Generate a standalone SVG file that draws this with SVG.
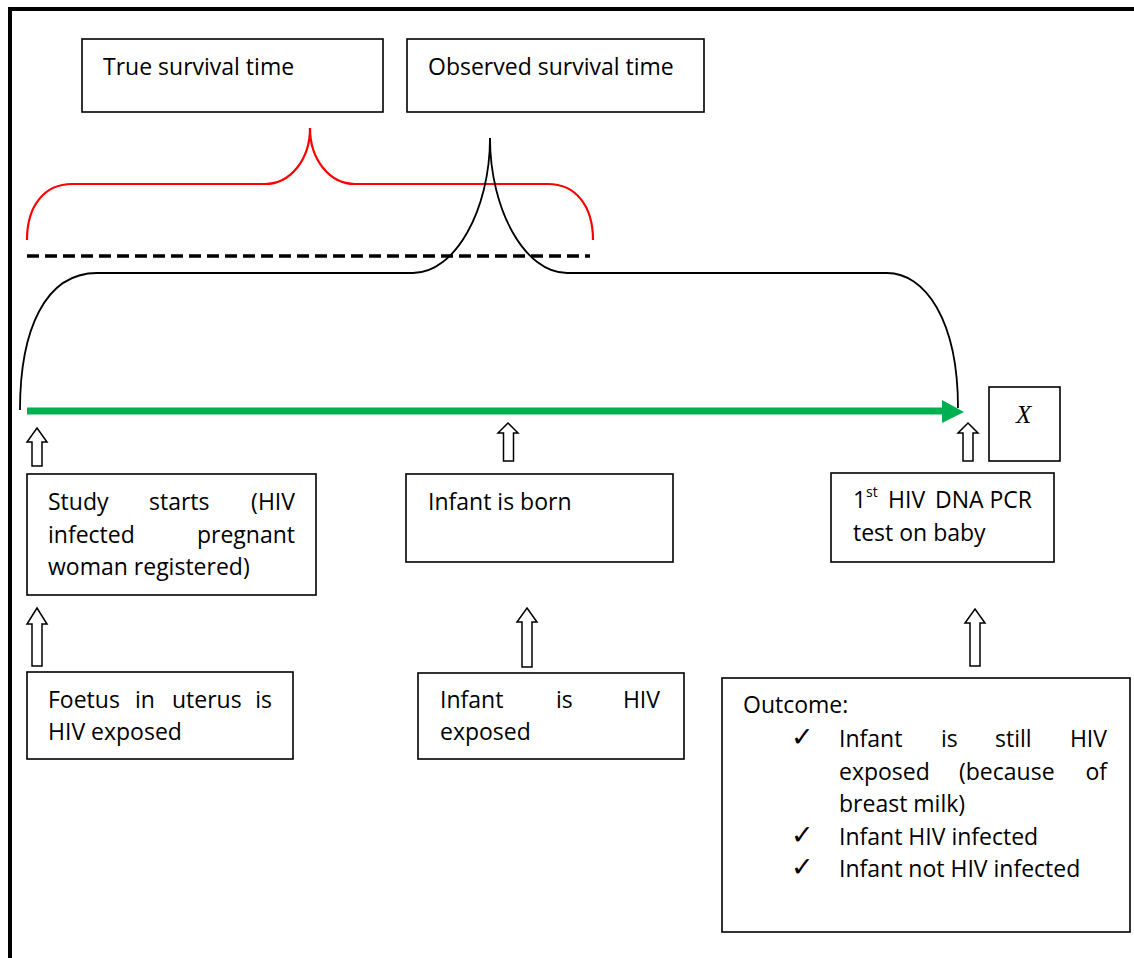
<svg xmlns="http://www.w3.org/2000/svg" width="1134" height="958" viewBox="0 0 1134 958">
<style>
.box{fill:#fff;stroke:#000;stroke-width:1.6}
.t{font-family:"Open Sans","Liberation Sans",sans-serif;font-size:23px;fill:#000}
.sup{font-family:"Open Sans","Liberation Sans",sans-serif;font-size:14px;fill:#000}
.chk{font-family:"DejaVu Sans",sans-serif;font-size:27px;fill:#000}
.blk{fill:#fff;stroke:#000;stroke-width:1.5;stroke-linejoin:miter}
.brace{fill:none;stroke:#000;stroke-width:1.8}
.rbrace{fill:none;stroke:#ff0000;stroke-width:2.2}
</style>
<rect width="1134" height="958" fill="#fff"/>
<g id="frame"><path d="M10,960 L10,9 L1136,9" fill="none" stroke="#000" stroke-width="4"/></g>

<g id="connectors">
  <path class="rbrace" d="M27,240 C27,205 45,184 72,184 L265,184 C290,184 310,160 310,128"/>
  <path class="rbrace" d="M310,128 C310,160 330,184 355,184 L548,184 C575,184 593,205 593,240"/>
  <line x1="27" y1="256" x2="590" y2="256" stroke="#000" stroke-width="3.6" stroke-dasharray="12,6"/>
  <path class="brace" d="M20,410 C20,330 45,273 97,273 L413,273 C455,273 490,210 490,138"/>
  <path class="brace" d="M490,138 C490,210 525,273 567,273 L887,273 C925,273 958,320 958,408"/>
  <line x1="27" y1="411" x2="944" y2="411" stroke="#00B050" stroke-width="7"/>
  <polygon points="942,400 964,412 942,423" fill="#00B050"/>
  <path class="blk" d="M37,428 L47,442 L42,442 L42,466 L32,466 L32,442 L27,442 Z"/>
  <path class="blk" d="M37,608 L47,624 L42,624 L42,666 L32,666 L32,624 L27,624 Z"/>
  <path class="blk" d="M508,423 L518,433 L513.5,433 L513.5,461 L503.5,461 L503.5,433 L498,433 Z"/>
  <path class="blk" d="M527,608 L537,622 L532,622 L532,667 L522,667 L522,622 L517,622 Z"/>
  <path class="blk" d="M968,423 L978,433 L973,433 L973,461 L963,461 L963,433 L958,433 Z"/>
  <path class="blk" d="M975,609 L985,623 L980,623 L980,666 L970,666 L970,623 L965,623 Z"/>
</g>

<g id="true-survival">
  <rect class="box" x="82" y="39" width="301" height="73"/>
  <text class="t" x="103" y="75">True survival time</text>
</g>
<g id="observed-survival">
  <rect class="box" x="407" y="39" width="297" height="73"/>
  <text class="t" x="428" y="75">Observed survival time</text>
</g>
<g id="x-box">
  <rect class="box" x="989" y="387" width="71" height="74"/>
  <text x="1016" y="423" font-family="'Liberation Serif',serif" font-style="italic" font-size="25">X</text>
</g>
<g id="study-starts">
  <rect class="box" x="27" y="474" width="289" height="121"/>
  <text class="t" x="48" y="510">Study</text>
  <text class="t" x="149" y="510">starts</text>
  <text class="t" x="295" y="510" text-anchor="end">(HIV</text>
  <text class="t" x="48" y="543">infected</text>
  <text class="t" x="295" y="543" text-anchor="end">pregnant</text>
  <text class="t" x="48" y="575">woman registered)</text>
</g>
<g id="infant-born">
  <rect class="box" x="406" y="474" width="267" height="88"/>
  <text class="t" x="428" y="510">Infant is born</text>
</g>
<g id="pcr-test">
  <rect class="box" x="831" y="473" width="223" height="89"/>
  <text class="t" x="853" y="508">1</text>
  <text class="sup" x="866" y="497">st</text>
  <text class="t" x="888" y="508">HIV</text>
  <text class="t" x="935" y="508">DNA</text>
  <text class="t" x="1032" y="508" text-anchor="end">PCR</text>
  <text class="t" x="853" y="541">test on baby</text>
</g>
<g id="foetus">
  <rect class="box" x="27" y="672" width="266" height="87"/>
  <text class="t" x="48" y="708">Foetus</text>
  <text class="t" x="135" y="708">in</text>
  <text class="t" x="172" y="708">uterus</text>
  <text class="t" x="272" y="708" text-anchor="end">is</text>
  <text class="t" x="48" y="740">HIV exposed</text>
</g>
<g id="infant-exposed">
  <rect class="box" x="418" y="673" width="266" height="86"/>
  <text class="t" x="440" y="708">Infant</text>
  <text class="t" x="556" y="708">is</text>
  <text class="t" x="660" y="708" text-anchor="end">HIV</text>
  <text class="t" x="440" y="740">exposed</text>
</g>
<g id="outcome">
  <rect class="box" x="722" y="678" width="408" height="254"/>
  <text class="t" x="743" y="713">Outcome:</text>
  <text class="chk" x="791" y="746">✓</text>
  <text class="t" x="839" y="747">Infant</text>
  <text class="t" x="941" y="747">is</text>
  <text class="t" x="995" y="747">still</text>
  <text class="t" x="1107" y="747" text-anchor="end">HIV</text>
  <text class="t" x="839" y="780">exposed</text>
  <text class="t" x="959" y="780">(because</text>
  <text class="t" x="1107" y="780" text-anchor="end">of</text>
  <text class="t" x="839" y="812">breast milk)</text>
  <text class="chk" x="791" y="844">✓</text>
  <text class="t" x="839" y="845">Infant HIV infected</text>
  <text class="chk" x="791" y="876">✓</text>
  <text class="t" x="839" y="877">Infant not HIV infected</text>
</g>
</svg>
